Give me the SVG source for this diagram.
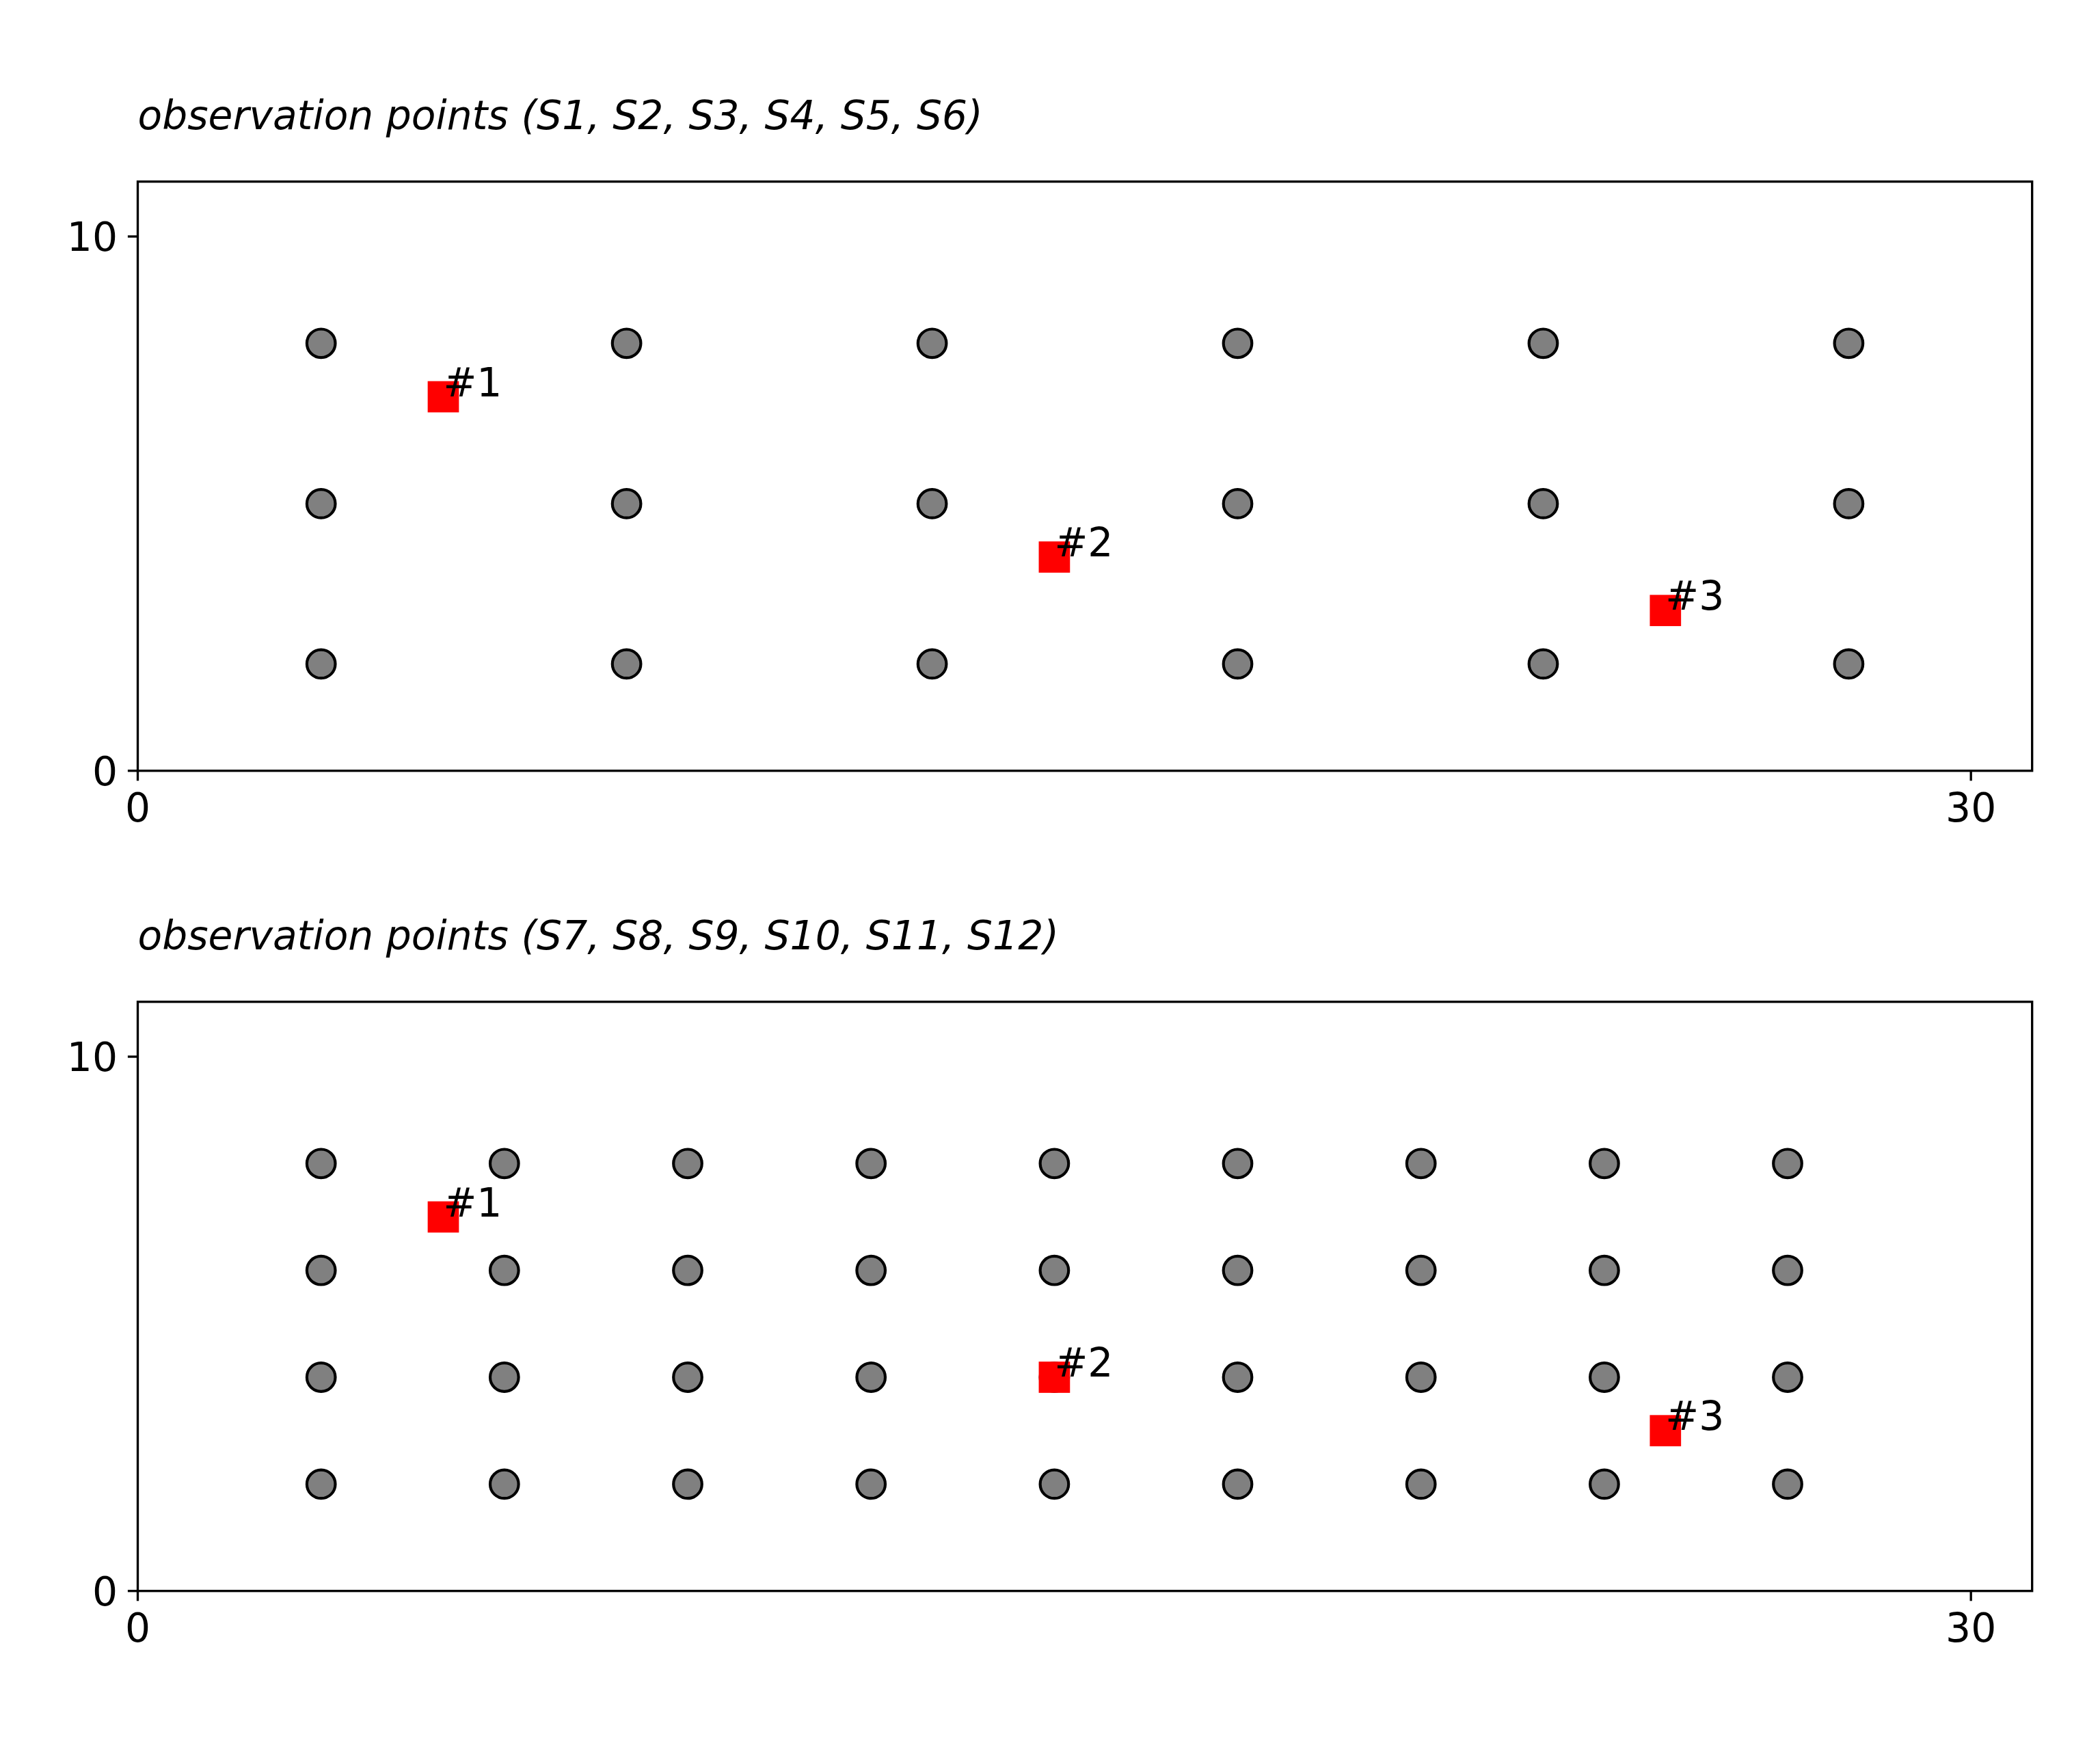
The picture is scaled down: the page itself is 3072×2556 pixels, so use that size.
<svg xmlns="http://www.w3.org/2000/svg" width="3072" height="2556" viewBox="0 0 3072 2556">
<defs>
<style>
text{font-family:"DejaVu Sans","Liberation Sans",sans-serif;font-size:58.3px;fill:#000}
.title{font-style:italic}
.ax{fill:none;stroke:#000;stroke-width:3.33;stroke-linejoin:miter}
.tick{stroke:#000;stroke-width:3.33}
.pt{fill:#808080;stroke:#000;stroke-width:4.17}
.src{fill:#ff0000}
.xl{text-anchor:middle}
.yl{text-anchor:end}
</style>
<circle id="dot" r="20.8" class="pt"/>
<rect id="sq" x="-22.85" y="-22.85" width="45.7" height="45.7" class="src"/>
</defs>
<rect width="3072" height="2556" fill="#fff"/>

<g id="panel-top">
<text class="title" x="201.5" y="189">observation points (S1, S2, S3, S4, S5, S6)</text>
<rect class="ax" x="201.5" y="265.7" width="2771.2" height="862"/>
<g id="ticks-top">
<line class="tick" x1="201.5" y1="1127.7" x2="201.5" y2="1142.3"/>
<line class="tick" x1="2883.2" y1="1127.7" x2="2883.2" y2="1142.3"/>
<line class="tick" x1="201.5" y1="1127.7" x2="186.9" y2="1127.7"/>
<line class="tick" x1="201.5" y1="346" x2="186.9" y2="346"/>
<text class="xl" x="201.5" y="1201.7">0</text>
<text class="xl" x="2883.2" y="1201.7">30</text>
<text class="yl" x="172" y="1149">0</text>
<text class="yl" x="172" y="367">10</text>
</g>
<g id="obs-top">
<use href="#dot" x="469.7" y="502.3"/><use href="#dot" x="916.6" y="502.3"/><use href="#dot" x="1363.6" y="502.3"/><use href="#dot" x="1810.5" y="502.3"/><use href="#dot" x="2257.5" y="502.3"/><use href="#dot" x="2704.4" y="502.3"/>
<use href="#dot" x="469.7" y="736.9"/><use href="#dot" x="916.6" y="736.9"/><use href="#dot" x="1363.6" y="736.9"/><use href="#dot" x="1810.5" y="736.9"/><use href="#dot" x="2257.5" y="736.9"/><use href="#dot" x="2704.4" y="736.9"/>
<use href="#dot" x="469.7" y="971.4"/><use href="#dot" x="916.6" y="971.4"/><use href="#dot" x="1363.6" y="971.4"/><use href="#dot" x="1810.5" y="971.4"/><use href="#dot" x="2257.5" y="971.4"/><use href="#dot" x="2704.4" y="971.4"/>
</g>
<g id="src1-top"><use href="#sq" x="648.5" y="580.5"/><text x="648.5" y="579.5">#1</text></g>
<g id="src2-top"><use href="#sq" x="1542.4" y="815"/><text x="1542.4" y="814">#2</text></g>
<g id="src3-top"><use href="#sq" x="2436.3" y="893.2"/><text x="2436.3" y="892.2">#3</text></g>
</g>

<g id="panel-bottom">
<text class="title" x="201.5" y="1389">observation points (S7, S8, S9, S10, S11, S12)</text>
<rect class="ax" x="201.5" y="1465.7" width="2771.2" height="862"/>
<g id="ticks-bottom">
<line class="tick" x1="201.5" y1="2327.7" x2="201.5" y2="2342.3"/>
<line class="tick" x1="2883.2" y1="2327.7" x2="2883.2" y2="2342.3"/>
<line class="tick" x1="201.5" y1="2327.7" x2="186.9" y2="2327.7"/>
<line class="tick" x1="201.5" y1="1546" x2="186.9" y2="1546"/>
<text class="xl" x="201.5" y="2401.7">0</text>
<text class="xl" x="2883.2" y="2401.7">30</text>
<text class="yl" x="172" y="2349">0</text>
<text class="yl" x="172" y="1567">10</text>
</g>
<g id="obs-bottom">
<use href="#dot" x="469.7" y="1702.3"/><use href="#dot" x="737.8" y="1702.3"/><use href="#dot" x="1006" y="1702.3"/><use href="#dot" x="1274.2" y="1702.3"/><use href="#dot" x="1542.4" y="1702.3"/><use href="#dot" x="1810.5" y="1702.3"/><use href="#dot" x="2078.7" y="1702.3"/><use href="#dot" x="2346.9" y="1702.3"/><use href="#dot" x="2615" y="1702.3"/>
<use href="#dot" x="469.7" y="1858.7"/><use href="#dot" x="737.8" y="1858.7"/><use href="#dot" x="1006" y="1858.7"/><use href="#dot" x="1274.2" y="1858.7"/><use href="#dot" x="1542.4" y="1858.7"/><use href="#dot" x="1810.5" y="1858.7"/><use href="#dot" x="2078.7" y="1858.7"/><use href="#dot" x="2346.9" y="1858.7"/><use href="#dot" x="2615" y="1858.7"/>
<use href="#dot" x="469.7" y="2015"/><use href="#dot" x="737.8" y="2015"/><use href="#dot" x="1006" y="2015"/><use href="#dot" x="1274.2" y="2015"/><use href="#dot" x="1542.4" y="2015"/><use href="#dot" x="1810.5" y="2015"/><use href="#dot" x="2078.7" y="2015"/><use href="#dot" x="2346.9" y="2015"/><use href="#dot" x="2615" y="2015"/>
<use href="#dot" x="469.7" y="2171.4"/><use href="#dot" x="737.8" y="2171.4"/><use href="#dot" x="1006" y="2171.4"/><use href="#dot" x="1274.2" y="2171.4"/><use href="#dot" x="1542.4" y="2171.4"/><use href="#dot" x="1810.5" y="2171.4"/><use href="#dot" x="2078.7" y="2171.4"/><use href="#dot" x="2346.9" y="2171.4"/><use href="#dot" x="2615" y="2171.4"/>
</g>
<g id="src1-bottom"><use href="#sq" x="648.5" y="1780.5"/><text x="648.5" y="1779.5">#1</text></g>
<g id="src2-bottom"><use href="#sq" x="1542.4" y="2015"/><text x="1542.4" y="2014">#2</text></g>
<g id="src3-bottom"><use href="#sq" x="2436.3" y="2093.2"/><text x="2436.3" y="2092.2">#3</text></g>
</g>
<g id="connectors"/>
</svg>
